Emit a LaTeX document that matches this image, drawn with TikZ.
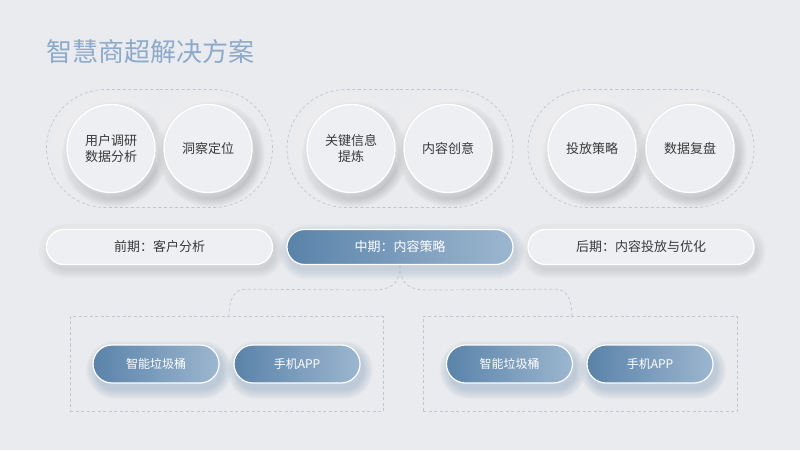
\documentclass[tikz,border=0pt]{standalone}
\usepackage{fontspec}
\setmainfont{Noto Sans CJK SC}
\usetikzlibrary{shapes.misc}
\definecolor{bg}{HTML}{E9EBEE}
\definecolor{circfill}{HTML}{EDEFF2}
\definecolor{dashc}{HTML}{C2C6CC}
\definecolor{blueL}{HTML}{5A83A9}
\definecolor{blueR}{HTML}{9CB6CF}
\definecolor{txt}{HTML}{3A3A3A}
\definecolor{titleblue}{HTML}{8DAACA}
\definecolor{shblue}{HTML}{5F83A8}
% soft shadow: cx cy w h dx dy colour opacity
\newcommand\softsh[8]{%
  \foreach \i in {1,...,10}{%
    \pgfmathsetmacro\rr{#4/2+\i}%
    \fill[#7, opacity=#8, rounded corners=\rr pt] ({#1+#5-#3/2-\i},{#2+#6-#4/2-\i}) rectangle ({#1+#5+#3/2+\i},{#2+#6+#4/2+\i});
  }}
\tikzset{
  grp/.style={rounded rectangle, draw=dashc, line width=0.7pt, dash pattern=on 3pt off 2.5pt,
    minimum width=226pt, minimum height=118pt, inner sep=0pt},
  circ/.style={circle, fill=circfill, draw=white, line width=1.3pt, minimum size=88pt, inner sep=0pt,
    align=center, font=\fontsize{13}{16}\selectfont, text=txt},
  barw/.style={rounded rectangle, fill=circfill, draw=white, line width=1.3pt, minimum width=226pt,
    minimum height=35pt, inner sep=0pt, font=\fontsize{13}{16}\selectfont, text=txt},
  barb/.style={rounded rectangle, left color=blueL, right color=blueR, draw=white, line width=1.2pt,
    minimum width=226pt, minimum height=35pt, inner sep=0pt, font=\fontsize{13}{16}\selectfont, text=white},
  pill/.style={rounded rectangle, left color=blueL, right color=blueR, draw=white, line width=1.2pt,
    minimum width=126pt, minimum height=38pt, inner sep=0pt, font=\fontsize{12}{14}\selectfont, text=white},
  box/.style={draw=dashc, line width=0.7pt, dash pattern=on 3pt off 2.5pt, inner sep=0pt},
  conn/.style={draw=dashc, line width=0.7pt, dash pattern=on 3pt off 2.5pt},
}
\begin{document}
\begin{tikzpicture}[x=1pt,y=1pt]
\fill[bg] (0,0) rectangle (800,450);
\useasboundingbox (0,0) rectangle (800,450);

\node[anchor=west, text=titleblue, font=\fontsize{26}{30}\selectfont, inner sep=0pt] (title) at (46,398) {智慧商超解决方案};

% groups
\node[grp] (g1) at (159.5,301.5) {};
\node[grp] (g2) at (400,301.5) {};
\node[grp] (g3) at (641,301.5) {};

% soft shadows
\foreach \cx in {111,208,351,448,592,690}{%
  \softsh{\cx}{301.5}{88}{88}{3}{-5}{black}{0.014}
  \softsh{\cx}{301.5}{88}{88}{-3}{3}{white}{0.05}
}
\foreach \cx in {159.5,641}{%
  \softsh{\cx}{203}{226}{35}{2}{-4}{black}{0.012}
  \softsh{\cx}{203}{226}{35}{-2}{2}{white}{0.04}
}
\softsh{400}{203}{226}{35}{2}{-5}{shblue}{0.025}
\foreach \cx in {156,297,509.5,650}{%
  \softsh{\cx}{86}{126}{38}{3}{-6}{shblue}{0.03}
}

\node[circ] (c1) at (111,301.5) {用户调研\\数据分析};
\node[circ] (c2) at (208,301.5) {洞察定位};
\node[circ] (c3) at (351,301.5) {关键信息\\提炼};
\node[circ] (c4) at (448,301.5) {内容创意};
\node[circ] (c5) at (592,301.5) {投放策略};
\node[circ] (c6) at (690,301.5) {数据复盘};

% phase bars
\node[barw] (p1) at (159.5,203) {前期：客户分析};
\node[barb] (p2) at (400,203) {中期：内容策略};
\node[barw] (p3) at (641,203) {后期：内容投放与优化};

% bottom boxes
\node[box, minimum width=313pt, minimum height=95pt] (b1) at (226.5,86) {};
\node[box, minimum width=314pt, minimum height=95pt] (b2) at (580,86) {};

\node[pill] (q1) at (156,86) {智能垃圾桶};
\node[pill] (q2) at (297,86) {手机APP};
\node[pill] (q3) at (509.5,86) {智能垃圾桶};
\node[pill] (q4) at (650,86) {手机APP};

% connector
\coordinate (cl) at ([xshift=2.5pt]b1.north);
\coordinate (cr) at ([xshift=-8pt]b2.north);
\draw[conn] (p2.south) .. controls +(0,-18) and +(20,0) .. ++(-28,-25) -- ([xshift=16pt,yshift=27pt]cl) .. controls +(-12,0) and +(0,14) .. (cl);
\draw[conn] (p2.south) .. controls +(0,-18) and +(-20,0) .. ++(28,-25) -- ([xshift=-16pt,yshift=27pt]cr) .. controls +(12,0) and +(0,14) .. (cr);
\end{tikzpicture}
\end{document}
